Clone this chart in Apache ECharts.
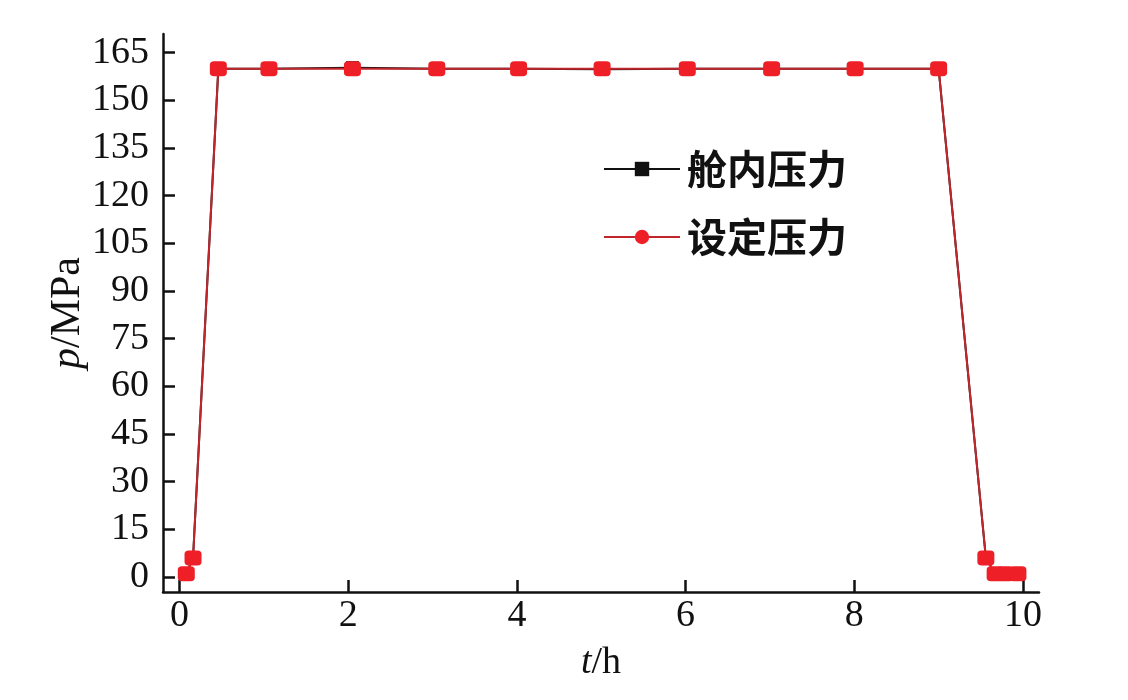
<!DOCTYPE html>
<html><head><meta charset="utf-8">
<script src="https://cdn.jsdelivr.net/npm/echarts@6/dist/echarts.min.js"></script>
<style>html,body{margin:0;padding:0;background:#fff}#c{width:1128px;height:700px}</style>
</head><body><div id="c"></div>
<script>
const seriesNames = ['舱内压力', '设定压力'];
const timeH = [0.08, 0.16, 0.46, 1.06, 2.05, 3.05, 4.02, 5.01, 6.02, 7.02, 8.01, 9.0, 9.56, 9.67, 9.79, 9.94];
const cabinPressure = [1.0, 6.0, 160, 160, 160.3, 160, 160, 159.8, 160, 160, 160, 160, 6.0, 1.0, 1.0, 1.0];
const setPressure   = [1.0, 6.0, 160, 160, 160, 160, 160, 160, 160, 160, 160, 160, 6.0, 1.0, 1.0, 1.0];
const yTicks = [0, 15, 30, 45, 60, 75, 90, 105, 120, 135, 150, 165];
const xTicks = [0, 2, 4, 6, 8, 10];

const chart = echarts.init(document.getElementById('c'));
const serif = 'Liberation Serif';
const cjk = 'Noto Sans CJK SC';
chart.setOption({
  animation: false,
  backgroundColor: '#fff',
  grid: { left: 163, right: 89, top: 34, bottom: 108 },
  legend: {
    orient: 'vertical', left: 598, top: 144,
    itemWidth: 76, itemHeight: 18, itemGap: 28,
    textStyle: { fontFamily: cjk, fontSize: 40, fontWeight: 'bold', color: '#111', padding: [0, 0, 0, 2] },
    data: seriesNames
  },
  xAxis: {
    type: 'value', min: -0.196, max: 10.19,
    name: '{i|t}{n|/h}', nameLocation: 'middle', nameGap: 52, nameMoveOverlap: false,
    nameTextStyle: { rich: { i: { fontFamily: serif, fontStyle: 'italic', fontSize: 38, color: '#111' }, n: { fontFamily: serif, fontSize: 38, color: '#111' } } },
    axisLine: { onZero: false, lineStyle: { color: '#111', width: 2.5 } },
    axisTick: { inside: true, length: 12, lineStyle: { color: '#111', width: 2.5 }, customValues: xTicks },
    axisLabel: { customValues: xTicks, fontFamily: serif, fontSize: 38, color: '#111', margin: 5 },
    splitLine: { show: false }
  },
  yAxis: {
    type: 'value', min: -4.72, max: 170.9,
    name: '{i|p}{n|/MPa}', nameLocation: 'middle', nameGap: 74, nameRotate: 90, nameMoveOverlap: false,
    nameTextStyle: { rich: { i: { fontFamily: serif, fontStyle: 'italic', fontSize: 42, color: '#111' }, n: { fontFamily: serif, fontSize: 42, color: '#111' } } },
    axisLine: { onZero: false, lineStyle: { color: '#111', width: 2.5 } },
    axisTick: { inside: true, length: 12, lineStyle: { color: '#111', width: 2.5 }, customValues: yTicks },
    axisLabel: { customValues: yTicks, fontFamily: serif, fontSize: 38, color: '#111', margin: 14 },
    splitLine: { show: false }
  },
  series: [
    {
      name: seriesNames[0], type: 'line', symbol: 'rect', symbolSize: 13,
      lineStyle: { color: '#111', width: 2 }, itemStyle: { color: '#111' },
      data: timeH.map((t, i) => [t, cabinPressure[i]]), z: 2
    },
    {
      name: seriesNames[1], type: 'line', symbol: 'circle', symbolSize: 18,
      lineStyle: { color: '#c0262c', width: 2 }, itemStyle: { color: '#ee1f26' },
      data: timeH.map((t, i) => ({ value: [t, setPressure[i]], symbol: 'roundRect', symbolSize: [17, 15] })), z: 3
    }
  ]
});
</script></body></html>
